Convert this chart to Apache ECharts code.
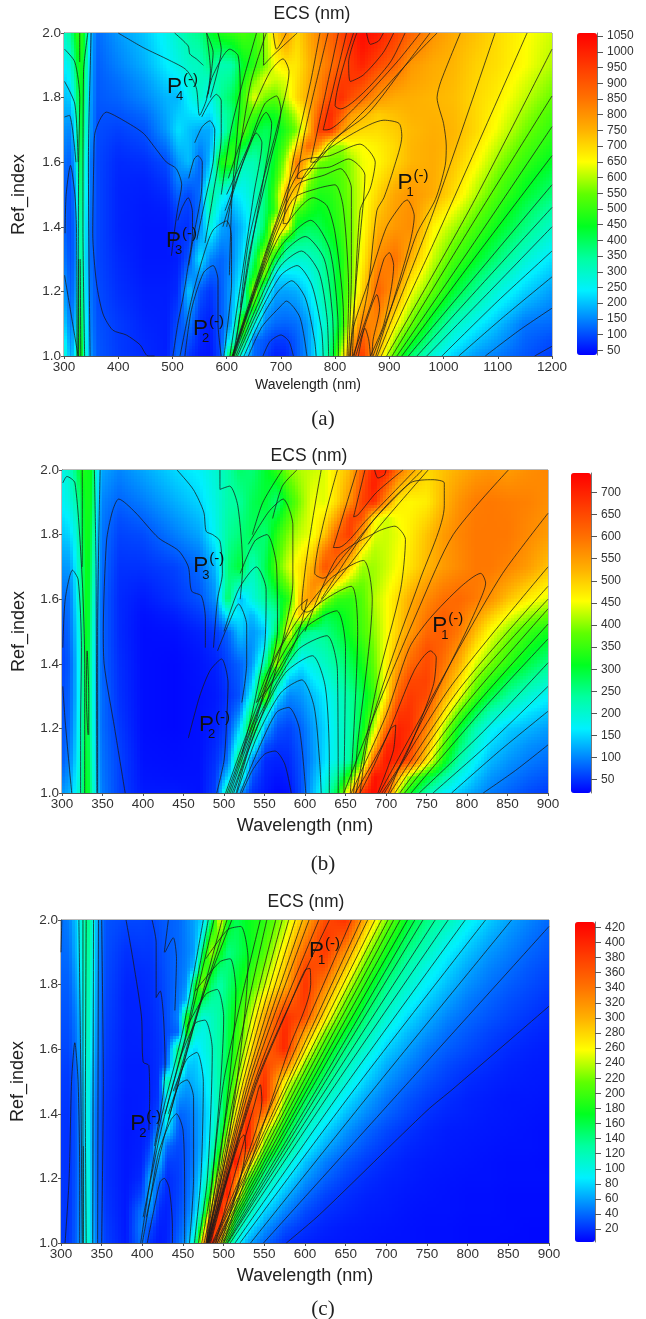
<!DOCTYPE html>
<html>
<head>
<meta charset="utf-8">
<style>html,body{margin:0;padding:0;background:#fff}#main{width:646px;height:1319px}</style>
<script src="https://cdn.jsdelivr.net/npm/echarts@6/dist/echarts.min.js"></script>
</head>
<body>
<div id="main"></div>
<script>
// ref index rows, same for all three maps
var refIndex = [1.0,1.05,1.1,1.15,1.2,1.25,1.3,1.35,1.4,1.45,1.5,1.55,1.6,1.65,1.7,1.75,1.8,1.85,1.9,1.95,2.0];

// (a) values, one row per ref index
var wavelengthsA = [300,312,322,330,338,348,360,400,450,490,510,530,550,570,590,610,630,650,670,690,710,730,750,770,790,810,830,850,880,910,940,980,1020,1060,1100,1150,1200];
var valuesA = [
[300,160,280,500,300,170,110,85,70,60,130,80,55,50,100,500,230,125,95,60,65,110,160,260,370,600,820,960,720,525,385,280,212,165,140,108,85],
[260,145,245,475,290,160,108,85,68,60,115,105,65,55,105,280,420,130,110,85,85,115,165,255,350,520,740,900,775,590,470,345,260,205,168,120,100],
[220,130,210,450,280,150,105,85,65,60,100,140,75,60,110,180,560,280,150,125,120,130,170,250,330,450,650,830,820,660,555,410,310,250,197,135,125],
[195,120,190,425,270,145,102,80,62,60,85,175,90,70,110,180,350,480,190,150,145,155,200,275,350,455,610,760,850,725,600,475,370,300,237,175,145],
[170,110,170,400,260,140,100,75,60,60,70,210,110,80,110,180,280,620,300,180,175,185,230,300,370,460,570,700,880,790,650,545,435,350,280,215,170],
[155,105,160,390,255,135,97,72,57,57,65,150,170,115,115,165,250,460,560,230,225,235,260,315,380,460,565,680,845,825,700,580,475,395,325,250,200],
[140,100,150,380,250,130,95,70,55,55,60,110,240,150,120,150,230,380,650,430,310,290,300,330,390,460,560,660,810,855,750,615,520,445,375,290,230],
[130,97,150,375,255,130,95,67,55,55,70,90,190,210,150,150,215,330,490,650,400,360,350,370,420,480,560,650,780,825,780,640,555,480,410,330,265],
[120,95,150,370,260,130,95,65,55,55,80,75,150,280,180,150,200,280,400,690,700,430,400,410,450,500,560,640,750,790,810,665,595,520,450,370,300],
[120,97,160,385,270,135,95,65,57,60,95,85,130,330,220,180,225,290,385,500,760,520,470,440,465,510,565,635,725,780,805,710,640,560,485,400,335],
[120,100,170,400,280,140,95,65,60,70,120,95,130,350,270,220,250,300,370,520,770,700,520,470,480,520,570,630,705,770,795,760,690,600,520,435,375],
[125,105,195,415,290,140,95,67,65,85,150,140,120,250,400,340,280,310,375,480,650,820,600,510,510,530,575,635,680,735,770,760,710,630,550,465,405],
[130,115,220,430,300,140,95,70,75,100,165,200,120,200,470,500,320,320,380,450,600,850,720,560,540,540,580,640,660,705,745,760,725,660,580,500,440],
[145,130,245,440,320,155,97,78,90,135,200,200,150,180,360,480,440,370,385,435,530,690,880,800,600,580,640,650,670,700,745,760,740,680,610,530,470],
[160,150,270,450,340,170,100,90,105,170,230,200,180,180,280,400,540,440,400,420,480,560,720,950,980,800,720,700,695,715,740,755,745,700,640,560,495],
[180,180,305,460,355,175,105,105,125,180,210,225,240,220,320,370,510,520,460,460,530,620,730,890,990,900,790,750,715,735,750,750,740,700,655,585,520],
[200,210,340,470,370,180,110,120,150,190,190,250,300,260,350,400,500,640,560,540,610,700,760,830,920,980,920,870,790,760,755,745,735,700,670,610,550],
[220,245,370,475,385,185,112,130,165,215,230,280,310,300,340,360,470,560,640,610,630,690,750,815,885,950,960,940,860,810,775,755,740,705,680,630,575],
[240,280,400,480,400,190,115,145,185,240,270,300,310,370,320,330,440,480,560,650,680,680,740,800,850,900,960,1000,930,880,790,760,745,710,690,650,600],
[270,315,435,490,415,195,120,155,195,250,285,320,335,400,400,420,480,490,570,680,740,690,750,810,860,915,970,1025,975,915,835,780,750,720,692,652,610],
[300,350,470,500,430,200,125,165,205,260,300,340,360,430,480,500,520,500,580,700,780,700,760,820,870,930,980,1040,1010,945,880,800,760,730,695,655,620]
];

// (b)
var wavelengthsB = [300,310,318,325,331,337,343,350,370,400,440,470,490,505,520,535,550,565,580,595,610,625,640,655,670,685,700,715,730,750,770,790,810,830,850,875,900];
var valuesB = [
[110,130,180,240,330,230,140,95,60,35,35,30,60,240,110,50,35,25,30,65,130,200,290,500,680,735,650,420,310,225,170,140,115,95,80,65,55],
[90,115,170,235,325,225,135,92,60,32,30,30,55,150,210,70,40,32,38,68,120,175,240,350,530,725,700,530,400,310,240,180,140,110,95,80,70],
[75,100,160,230,320,220,130,90,60,30,28,30,50,90,280,100,45,40,45,70,110,155,190,240,360,620,715,690,640,480,330,230,170,130,110,95,85],
[72,92,155,230,315,215,128,88,58,29,27,30,45,72,210,200,70,52,52,75,112,152,190,235,330,500,690,710,665,530,380,270,200,150,127,108,98],
[70,85,150,230,310,210,125,85,55,28,25,30,40,60,150,330,130,70,60,80,115,150,190,230,300,420,600,700,685,580,430,310,230,175,145,130,115],
[68,82,145,225,310,210,122,85,52,28,25,30,37,55,100,270,210,100,80,95,125,157,195,235,290,380,530,670,680,620,490,380,290,225,190,160,140],
[65,80,140,220,310,210,120,85,50,28,25,30,35,50,70,180,390,160,100,110,135,165,200,240,280,350,470,620,670,650,540,450,360,290,240,200,170],
[62,78,140,222,315,212,120,82,49,28,25,31,37,55,75,135,350,260,140,125,160,185,220,260,300,365,465,580,650,660,575,490,400,340,285,245,210],
[60,75,140,225,320,215,120,80,48,28,25,32,40,60,80,110,230,430,210,160,190,210,240,280,320,380,460,540,610,650,600,530,440,390,340,290,250],
[62,80,145,232,325,220,122,80,46,28,27,35,47,70,110,105,170,380,350,210,215,230,260,300,340,390,455,520,580,640,615,560,480,420,370,320,285],
[65,85,150,240,330,225,125,80,45,28,30,40,55,80,140,110,140,280,470,270,240,250,280,320,360,400,450,500,550,610,625,590,520,450,400,350,320],
[75,88,160,250,330,232,128,80,45,30,38,55,85,170,160,130,190,240,410,510,400,290,300,330,365,410,450,495,540,590,620,600,555,505,455,410,380],
[85,90,170,260,330,240,130,80,45,35,50,70,110,280,130,190,240,280,340,520,560,420,350,340,370,420,450,490,530,570,600,610,590,560,510,470,440],
[97,100,175,260,330,250,135,82,47,42,55,78,120,260,230,200,260,330,400,480,570,560,470,410,385,410,440,470,505,545,575,590,590,575,545,510,475],
[110,115,180,260,330,260,140,85,50,50,60,85,135,260,300,215,280,370,440,480,530,640,590,490,410,410,430,455,480,520,550,570,590,590,575,550,510],
[125,130,190,270,330,270,145,87,55,57,78,100,155,250,280,245,270,355,420,455,490,590,640,580,460,420,430,450,475,515,550,572,590,590,585,560,530],
[140,150,200,280,330,280,150,90,60,65,95,120,180,240,260,280,260,340,400,430,450,510,620,670,540,440,430,445,470,510,550,575,590,590,590,570,550],
[155,170,215,285,330,290,160,95,68,80,110,135,185,235,250,280,280,300,370,415,450,475,545,660,640,470,430,455,465,490,535,568,588,590,588,575,558],
[170,190,230,290,330,300,170,100,80,95,125,150,190,230,240,280,300,260,340,400,450,440,490,560,660,690,560,470,460,470,520,560,585,590,585,580,565],
[175,200,250,310,325,305,175,110,90,108,138,160,195,230,255,270,300,300,370,410,440,440,485,540,640,710,630,530,495,480,515,545,568,575,568,572,570],
[180,210,270,330,320,310,180,120,100,120,150,170,200,230,270,260,300,340,400,420,430,440,480,520,620,700,700,600,540,490,510,530,550,560,550,565,575]
];

// (c)
var wavelengthsC = [300,310,320,326,332,338,345,355,380,400,410,420,430,445,455,465,475,485,495,505,515,530,550,575,600,625,650,675,700,725,750,775,800,825,850,875,900];
var valuesC = [
[25,22,40,70,120,70,40,25,12,45,20,12,15,40,60,120,300,420,290,150,100,62,40,20,15,12,11,10,9,9,8,8,7,7,6,6,6],
[24,21,39,67,118,67,39,24,11,50,30,14,14,34,50,90,200,400,380,240,140,90,57,32,21,15,12,11,10,9,8,8,7,7,7,6,6],
[24,20,38,65,115,65,38,22,11,45,55,18,14,30,42,70,130,280,415,320,190,130,80,50,30,20,16,13,12,10,9,9,8,8,7,7,7],
[23,20,37,62,115,64,37,21,11,28,68,28,16,27,38,62,105,200,370,410,280,165,105,67,42,27,19,15,13,11,10,9,8,8,7,7,7],
[23,20,36,60,115,62,36,20,11,18,65,45,18,25,36,55,90,150,280,415,350,210,135,90,57,38,26,19,15,13,11,10,9,9,8,8,8],
[22,20,35,60,112,61,35,20,11,15,40,70,25,26,35,50,78,120,210,340,420,295,170,115,72,48,33,24,18,14,12,11,10,9,8,8,7],
[22,20,35,60,110,60,35,20,11,14,25,90,40,28,35,48,70,105,170,270,370,400,220,150,95,65,45,32,23,17,14,12,11,10,9,9,8],
[22,20,35,60,110,61,35,20,11,13,18,55,85,32,38,50,68,96,145,225,315,410,260,170,112,80,56,40,29,21,16,13,12,11,10,9,8],
[22,21,35,60,110,62,36,20,12,13,16,28,110,38,42,52,68,90,130,190,260,390,340,200,135,100,70,52,38,28,20,16,14,12,11,10,9],
[23,22,36,62,112,66,38,21,12,13,15,22,100,55,50,60,73,95,130,180,240,335,400,230,160,118,86,62,45,33,25,19,15,13,11,11,10],
[24,23,38,65,115,70,40,22,13,13,15,20,130,75,60,68,80,100,130,170,220,300,395,260,190,140,105,76,55,41,31,24,18,15,13,12,11],
[26,25,41,70,120,75,42,23,13,13,15,20,38,150,75,72,88,105,130,165,205,275,375,340,225,165,120,90,65,50,38,29,23,19,15,13,12],
[28,28,45,75,125,80,45,24,14,14,16,20,28,150,100,80,95,110,130,160,195,255,340,400,270,190,140,110,78,60,45,36,29,23,18,15,13],
[30,30,47,80,128,85,46,25,14,15,16,21,29,40,190,105,98,112,130,158,190,240,320,400,310,225,165,125,92,70,55,42,34,27,22,18,15],
[32,32,50,85,130,90,48,26,15,15,17,22,30,50,190,140,105,115,130,155,185,230,300,390,370,270,195,145,110,82,65,50,40,33,27,22,18],
[34,34,55,90,132,95,49,27,15,16,18,23,31,45,70,190,150,130,128,150,175,212,270,345,385,300,220,165,125,97,76,60,46,38,31,26,21],
[36,36,60,95,135,100,50,28,16,17,19,24,32,42,55,170,230,150,125,145,165,195,240,300,390,330,250,185,140,112,88,70,54,44,36,30,25],
[38,39,65,100,138,105,51,29,18,19,20,26,33,41,50,75,200,190,145,142,158,182,222,285,375,365,285,210,160,125,100,80,62,50,42,34,29],
[40,42,70,105,140,110,52,30,20,22,22,28,34,40,48,60,150,240,180,140,150,170,205,270,350,385,320,235,180,140,116,90,72,57,48,39,33],
[41,45,72,108,142,112,54,31,24,25,24,30,35,40,49,61,100,200,220,160,152,172,198,250,325,385,360,265,200,155,128,105,82,66,54,44,36],
[42,48,75,110,145,115,55,32,28,28,26,32,36,40,50,62,80,140,260,180,155,175,190,235,300,370,390,295,225,170,140,122,95,76,61,50,40]
];

// contour lines, [wavelength, ref index]
var contoursA = [
[[326,1],[313,1.13],[301,1.25]],
[[324,1],[323,1.4],[320,1.5],[312,1.59],[304,1.5],[302,1.38]],
[[301,1.74],[310,1.745],[322,1.6]],[[301,1.85],[320,1.78],[326,1.6]],
[[301,1.95],[320,1.91],[329,1.8],[327,1.6],[326,1]],[[329,2],[329,1.91]],
[[344,2],[336,1.88],[335,1.4],[338,1]],[[350,2],[345,1.6],[348,1]],[[330,1.3],[331,1]],[[327,1.3],[327,1]],
[[467,1],[455,1],[440,1.035],[415,1.065],[390,1.08],[372,1.13],[360,1.225],[353,1.38],[355,1.61],[357,1.69],[378,1.755],[409,1.73],[446,1.69],[470,1.64],[489,1.6],[507,1.58],[517,1.53],[510,1.46],[504,1.39],[498,1.31]],
[[501,1],[510,1.1],[520,1.185],[529,1.28],[537,1.38],[537,1.445],[529,1.49],[518,1.46],[510,1.42]],
[[523,1],[535,1.143],[557,1.257],[575,1.28],[584,1.236],[584,1.1],[590,1]],
[[514,1],[535,1.174],[557,1.31],[575,1.39],[600,1.418],[609,1.37],[609,1.226],[600,1.07],[595,1]],
[[400,2],[446,1.955],[495,1.915],[526,1.885],[544,1.83],[550,1.745],[563,1.795],[570,1.885],[563,2]],
[[504,2],[529,1.96],[532,1.935],[544,1.92],[557,1.9]],
[[563,1.8],[575,1.87],[606,1.95],[621,1.93],[625,1.82],[620,1.7],[610,1.5],[605,1.25]],
[[554,1.74],[570,1.79],[581,1.81],[590,1.79],[590,1.68],[575,1.5],[560,1.35]],
[[541,1.66],[555,1.71],[569,1.728],[578,1.7],[575,1.6],[560,1.48],[545,1.36]],
[[530,1.55],[540,1.61],[547,1.62],[555,1.6],[553,1.5],[540,1.38],[530,1.28]],
[[584,2],[590,1.95],[570,1.8]],[[563,2],[575,1.94],[566,1.81]],
[[655,2],[630,1.85],[608,1.7],[590,1.5]],[[673,2],[645,1.85],[625,1.65],[600,1.4]],
[[603,1.55],[640,1.73],[680,1.88],[704,1.92],[715,1.88],[695,1.72],[665,1.53],[640,1.35],[625,1.15]],
[[600,1.5],[640,1.65],[670,1.78],[692,1.805],[700,1.76],[680,1.6],[655,1.42],[640,1.3],[618,1.05]],
[[597,1.45],[640,1.64],[673,1.754],[683,1.72],[668,1.55],[650,1.38],[632,1.2],[612,1]],
[[593,1.4],[630,1.6],[655,1.69],[665,1.66],[650,1.5],[630,1.27],[606,1]],
[[686,2],[692,1.95],[710,2]],[[668,2],[668,1.9],[685,1.93],[730,2]],
[[667,1],[680,1.045],[700,1.065],[715,1.045],[723,1]],
[[640,1],[665,1.09],[700,1.155],[710,1.17],[735,1.12],[748,1]],
[[632,1],[665,1.12],[695,1.2],[720,1.233],[745,1.18],[762,1.05],[765,1]],
[[625,1],[660,1.13],[700,1.25],[730,1.28],[757,1.22],[775,1.08],[778,1]],
[[620,1],[660,1.15],[700,1.28],[738,1.325],[770,1.26],[785,1.12],[788,1]],
[[617,1],[660,1.17],[700,1.31],[745,1.37],[780,1.3],[795,1.13],[797,1]],
[[614,1],[660,1.2],[700,1.34],[755,1.42],[790,1.33],[805,1.12],[806,1]],
[[613,1],[658,1.22],[700,1.38],[760,1.49],[785,1.465],[800,1.38],[815,1.15],[816,1]],
[[612,1],[656,1.22],[695,1.39],[725,1.49],[770,1.52],[800,1.53],[815,1.46],[825,1.2],[822,1]],
[[611,1],[655,1.22],[693,1.4],[730,1.53],[780,1.56],[810,1.58],[830,1.52],[830,1.25],[825,1]],
[[611,1],[654,1.22],[692,1.41],[735,1.57],[790,1.585],[825,1.61],[855,1.56],[845,1.35],[827,1]],
[[610,1],[652,1.22],[690,1.41],[735,1.6],[790,1.62],[846,1.656],[874,1.6],[865,1.52],[846,1.45],[832,1]],
[[772,2],[755,1.85],[722,1.6],[704,1.41],[710,1.41],[740,1.55],[772,1.62],[834,1.69],[890,1.73],[918,1.72],[923,1.68],[908,1.58],[890,1.49],[877,1.45],[860,1.2],[835,1]],
[[787,2],[745,1.7],[730,1.55],[738,1.55],[790,1.66],[860,1.75],[925,1.89],[975,2]],
[[806,2],[755,1.6],[762,1.6],[800,1.67],[860,1.77],[930,1.9],[988,2]],
[[821,2],[778,1.7],[785,1.7],[834,1.765],[914,1.91],[957,2]],
[[834,2],[800,1.775],[810,1.765],[852,1.815],[902,1.91],[929,2]],
[[840,2],[825,1.91],[828,1.85],[852,1.87],[889,1.94],[908,2]],
[[858,2],[865,1.965],[880,1.975],[889,2]],
[[828,1],[834,1.09],[865,1.247],[895,1.4],[925,1.475],[933,1.483],[946,1.433],[938,1.35],[908,1.175],[875,1]],
[[833,1],[870,1.18],[890,1.3],[900,1.32],[908,1.28],[890,1.1],[865,1]],
[[838,1],[860,1.12],[877,1.19],[882,1.15],[870,1.05],[868,1]],
[[843,1],[855,1.086],[862,1.05],[865,1]],
[[1031,2],[995,1.85],[988,1.8],[1000,1.72],[1005,1.65],[1003,1.59],[985,1.485],[951,1.38],[920,1.226],[870,1]],
[[878,1],[980,1.44],[1095,2]],[[885,1],[990,1.38],[1154,2]],[[895,1],[1050,1.46],[1200,1.95]],
[[905,1],[1050,1.4],[1200,1.805]],[[914,1],[1060,1.36],[1200,1.71]],[[923,1],[1060,1.31],[1200,1.62]],
[[935,1],[1070,1.27],[1200,1.53]],[[951,1],[1075,1.23],[1200,1.46]],[[969,1],[1085,1.2],[1200,1.4]],
[[997,1],[1100,1.17],[1200,1.325]],[[1028,1],[1110,1.12],[1200,1.245]],[[1077,1],[1140,1.08],[1200,1.148]],[[1168,1],[1200,1.03]]
];
var contoursB = [
[[312,1],[304,1.22],[301,1.33]],
[[323,1],[323,1.2],[324,1.45],[320,1.66],[313,1.69],[304,1.6],[301,1.45]],
[[328,1],[328,1.4],[325,1.66],[316,1.96],[306,1.98],[301,1.96]],
[[325,2],[325,1.7]],[[340,2],[342,1.7],[343,1]],[[347,2],[344,1.5],[344,1]],
[[332,1.18],[330,1.3],[331,1.44],[333,1.3],[333,1.18]],
[[378,1],[365,1.2],[352,1.4],[351,1.5],[355,1.78],[362,1.87],[370,1.91],[390,1.87],[419,1.79],[444,1.75],[456,1.7],[460,1.625],[472,1.61],[477,1.54],[477,1.45]],
[[456,1.17],[470,1.3],[483,1.38],[497,1.415],[505,1.34],[503,1.21],[500,1.1],[491,1]],
[[442,2],[462,1.94],[475,1.87],[478,1.81],[486,1.8],[495,1.78],[498,1.68],[492,1.6],[487,1.45]],
[[495,2],[495,1.94],[507,1.95],[517,1.89],[523,1.7],[520,1.6]],
[[492,1.44],[505,1.52],[518,1.585],[528,1.52],[528,1.4],[522,1.28]],
[[500,1.5],[518,1.63],[540,1.7],[552,1.63],[550,1.45],[535,1.25],[522,1.12]],
[[520,1.68],[538,1.78],[553,1.8],[565,1.7],[566,1.5],[548,1.3],[527,1.12],[510,1]],
[[530,1.77],[555,1.87],[573,1.91],[585,1.83],[585,1.65],[575,1.5],[555,1.3],[530,1.13],[515,1]],
[[572,2],[548,1.9],[535,1.8]],[[590,2],[572,1.95],[560,1.85]],
[[540,1.28],[555,1.38],[575,1.48],[590,1.57],[603,1.6],[590,1.48],[565,1.36],[540,1.28]],
[[522,1],[535,1.07],[550,1.12],[563,1.13],[575,1.09],[583,1]],
[[520,1],[545,1.15],[565,1.25],[580,1.265],[593,1.2],[601,1]],
[[516,1],[540,1.17],[570,1.31],[596,1.35],[611,1.27],[618,1.1],[620,1]],
[[512,1],[540,1.2],[575,1.37],[609,1.425],[625,1.33],[630,1.1],[630,1]],
[[508,1],[540,1.22],[590,1.44],[627,1.487],[640,1.38],[641,1]],
[[506,1],[550,1.3],[600,1.51],[639,1.564],[650,1.45],[648,1]],
[[504,1],[560,1.37],[610,1.57],[657,1.64],[665,1.5],[656,1]],
[[502,1],[570,1.45],[630,1.66],[672,1.72],[683,1.6],[665,1.15],[660,1]],
[[600,1.5],[640,1.73],[690,1.81],[711,1.826],[724,1.785],[718,1.63],[690,1.35],[663,1]],
[[620,1.6],[680,1.83],[730,1.96],[758,1.97],[772,1.96],[772,1.89],[742,1.66],[716,1.48],[680,1.2],[668,1]],
[[686,2],[690,1.975],[698,1.985],[700,2]],
[[674,2],[660,1.855],[665,1.86],[688,1.93],[721,2]],
[[664,2],[635,1.76],[641,1.76],[676,1.845],[736,2]],
[[640,2],[612,1.68],[622,1.665],[650,1.74],[690,1.86],[745,2]],
[[620,2],[596,1.57],[602,1.56],[640,1.66],[690,1.82],[752,2]],
[[668,1],[686,1.09],[706,1.2],[712,1.21],[709,1.13],[690,1]],
[[662,1],[700,1.17],[735,1.38],[755,1.44],[762,1.42],[758,1.33],[725,1.12],[695,1]],
[[657,1],[700,1.24],[729,1.45],[754,1.54],[793,1.64],[817,1.68],[823,1.65],[815,1.59],[795,1.48],[720,1.1],[703,1]],
[[851,2],[783,1.8],[742,1.58],[690,1.27],[648,1]],
[[900,1.866],[844,1.68],[795,1.47],[740,1.22],[692,1]],
[[698,1],[780,1.33],[900,1.7]],[[705,1],[790,1.32],[900,1.64]],[[711,1],[800,1.32],[900,1.6]],
[[717,1],[800,1.28],[900,1.57]],[[723,1],[810,1.27],[900,1.523]],[[731,1],[820,1.26],[900,1.477]],
[[741,1],[820,1.19],[900,1.403]],[[758,1],[830,1.16],[900,1.33]],[[781,1],[840,1.13],[900,1.253]],[[820,1],[860,1.07],[900,1.149]]
];
var contoursC = [
[[301,2],[300,1.9]],
[[305,1],[310,1.2],[313,1.5],[317,1.62],[321,1.5],[323,1.2],[323,1]],
[[322,2],[324,1.6],[326,1]],[[327,2],[327,1]],[[327.5,1.3],[327.5,1]],[[331,2],[330,1.4],[331,1]],
[[340,2],[339,1]],[[346,2],[345,1]],[[350,2],[352,1.5],[350,1]],
[[380,2],[389,1.87],[399,1.7],[401,1.56],[408,1.55],[409,1.45],[408,1.35]],
[[412,2],[417,1.93],[417,1.76],[422,1.78],[426,1.7],[428,1.55],[425,1.45],[415,1.3]],
[[428,1.9],[438,1.945],[442,1.88],[440,1.72]],[[432,2],[427,1.9]],
[[406,1],[414,1.1],[422,1.19],[427,1.2],[433,1.17],[437,1.05],[437,1]],
[[400,1],[410,1.14],[420,1.28],[435,1.38],[442,1.4],[450,1.35],[452,1.15],[452,1]],
[[432,1.4],[445,1.49],[455,1.505],[463,1.45],[463,1.2],[458,1]],
[[438,1.47],[455,1.57],[467,1.59],[475,1.5],[472,1.2],[464,1]],
[[446,1.57],[465,1.68],[477,1.69],[486,1.6],[480,1.2],[469,1]],
[[455,1.67],[478,1.77],[492,1.785],[500,1.7],[486,1.2],[473,1]],
[[465,1.78],[495,1.87],[508,1.88],[515,1.78],[495,1.25],[476,1]],
[[478,1.88],[505,1.97],[521,1.98],[530,1.88],[505,1.3],[478,1]],
[[398,1],[420,1.35],[450,1.66],[475,2]],[[401,1.08],[424,1.36],[455,1.66],[481,2]],[[428,1.4],[458,1.68],[488,2]],
[[405,1.08],[427,1.33],[458,1.62],[498,2]],[[432,1.38],[462,1.66],[504,2]],[[440,1.47],[468,1.72],[510,2]],
[[479,1],[500,1.5],[545,2]],[[479,1],[510,1.5],[553,2]],[[480,1],[516,1.5],[564,2]],[[480,1],[520,1.5],[572,2]],
[[480,1],[524,1.5],[580,2]],[[481,1],[528,1.5],[588,2]],[[481,1],[531,1.5],[597,2]],[[482,1],[534,1.5],[605,2]],
[[482,1],[538,1.5],[617,2]],[[483,1],[540,1.5],[630,2]],
[[484,1],[505,1.2],[520,1.32],[525,1.335],[527,1.3],[512,1.12],[492,1]],
[[490,1],[520,1.27],[538,1.43],[545,1.49],[547,1.44],[520,1.2],[497,1]],
[[480,1],[540,1.49],[580,1.73],[600,1.845],[606,1.85],[607,1.8],[580,1.6],[540,1.3],[500,1]],
[[486,1],[571,1.5],[657,2]],[[487,1],[578,1.5],[669,2]],[[488,1],[582,1.5],[677,2]],[[490,1],[588,1.5],[686,2]],
[[492,1],[593,1.5],[694,2]],[[494,1],[598,1.5],[702,2]],[[496,1],[603,1.5],[709,2]],[[498,1],[608,1.5],[717,2]],
[[500,1],[613,1.5],[726,2]],[[502,1],[620,1.5],[735,2]],[[504,1],[625,1.5],[745,2]],[[505,1],[632,1.5],[760,2]],
[[508,1],[640,1.5],[776,2]],[[514,1],[653,1.5],[797,2]],[[520,1],[668,1.5],[822,2]],[[533,1],[692,1.5],[854,2]],
[[549,1],[728,1.5],[900,1.98]],[[577,1],[618,1.088],[750,1.41],[782,1.477],[900,1.733]]
];

// P labels: wavelength, ref index, subscript
var peaksA = [[490,1.814,'4'],[488,1.337,'3'],[538,1.065,'2'],[915,1.517,'1']];
var peaksB = [[462,1.684,'3'],[469,1.192,'2'],[757,1.498,'1']];
var peaksC = [[385,1.35,'2'],[605,1.885,'1']];

var ticksA = [50,100,150,200,250,300,350,400,450,500,550,600,650,700,750,800,850,900,950,1000,1050];
var ticksB = [50,100,150,200,250,300,350,400,450,500,550,600,650,700];
var ticksC = [20,40,60,80,100,120,140,160,180,200,220,240,260,280,300,320,340,360,380,400,420];

var rampColors = ['#0000ff','#0078ff','#00f0ff','#00ffa0','#00ff20','#60ff00','#ffff00','#ffb000','#ff7000','#ff3800','#ff0000'];
var font = '"Liberation Sans", Arial, sans-serif';

var panels = [
    {title:'(a)', wl:wavelengthsA, values:valuesA, lines:contoursA, peaks:peaksA, ticks:ticksA, min:35, max:1060,
     left:64, top:33, width:488, height:323, xmax:1200, step:100, titleX:312, titleY:5, capY:409, nameSize:14, nameGap:22, yGap:36,
     barLeft:577, barTop:33, barH:322},
    {title:'(b)', wl:wavelengthsB, values:valuesB, lines:contoursB, peaks:peaksB, ticks:ticksB, min:20, max:744,
     left:62, top:470, width:486, height:323, xmax:900, step:50, titleX:309, titleY:447, capY:854, nameSize:18, nameGap:24, yGap:34,
     barLeft:571, barTop:473, barH:320},
    {title:'(c)', wl:wavelengthsC, values:valuesC, lines:contoursC, peaks:peaksC, ticks:ticksC, min:3, max:427,
     left:61, top:920, width:488, height:323, xmax:900, step:50, titleX:306, titleY:893, capY:1299, nameSize:18, nameGap:24, yGap:34,
     barLeft:575, barTop:922, barH:320}
];

var grid = [], xAxis = [], yAxis = [], series = [], visualMap = [], title = [];

function plainLabel(v){
    return String(v);
}

// shade one grid cell between its four corner values
function cellRenderer(p){
    return function(params, api){
        var w0 = api.value(0), w1 = api.value(1), r0 = api.value(2), r1 = api.value(3);
        var v00 = api.value(4), v10 = api.value(5), v01 = api.value(6), v11 = api.value(7);
        var a = api.coord([w0, r1]), b = api.coord([w1, r0]);
        var x0 = Math.round(a[0]), x1 = Math.round(b[0]), y0 = Math.round(a[1]), y1 = Math.round(b[1]);
        var children = [];
        for(var x = x0; x < x1; x += 3){
            var dx = Math.min(3, x1 - x);
            var tx = (x + dx / 2 - x0) / (x1 - x0);
            for(var y = y0; y < y1; y += 3){
                var dy = Math.min(3, y1 - y);
                var ty = (y + dy / 2 - y0) / (y1 - y0);
                var top = v01 + (v11 - v01) * tx, bottom = v00 + (v10 - v00) * tx;
                var v = top + (bottom - top) * ty;
                children.push({
                    type:'rect',
                    shape:{x:x, y:y, width:dx, height:dy},
                    style:{fill:echarts.color.lerp(Math.max(0, Math.min(1, (v - p.min) / (p.max - p.min))), rampColors)}
                });
            }
        }
        return {type:'group', children:children};
    };
}

function peakRenderer(p){
    return function(params, api){
        var c = api.coord([api.value(0), api.value(1)]);
        var sub = p.peaks[params.dataIndex][2];
        var piece = function(text, x, y, size){
            return {type:'text', style:{text:text, x:x, y:y, fontSize:size, fontFamily:font, fill:'#111', verticalAlign:'bottom'}};
        };
        return {type:'group', children:[
            piece('P', c[0], c[1] + 5, 22.5),
            piece('(-)', c[0] + 16, c[1] - 6, 15),
            piece(sub, c[0] + 9, c[1] + 10, 13)
        ]};
    };
}

panels.forEach(function(p, n){
    var cells = [];
    for(var j = 0; j < refIndex.length - 1; j++){
        for(var i = 0; i < p.wl.length - 1; i++){
            cells.push([p.wl[i], p.wl[i+1], refIndex[j], refIndex[j+1], p.values[j][i], p.values[j][i+1], p.values[j+1][i], p.values[j+1][i+1]]);
        }
    }
    grid.push({left:p.left, top:p.top, width:p.width, height:p.height, show:true, borderColor:'#777', borderWidth:1});
    grid.push({left:p.barLeft, top:p.barTop, width:20, height:p.barH});
    xAxis.push({
        gridIndex:n*2, type:'value', min:300, max:p.xmax, interval:p.step,
        name:'Wavelength (nm)', nameLocation:'middle', nameGap:p.nameGap,
        nameTextStyle:{fontSize:p.nameSize, fontFamily:font, color:'#222'},
        axisLine:{show:true, onZero:false, lineStyle:{color:'#555'}},
        axisTick:{show:true, length:3, lineStyle:{color:'#555'}},
        axisLabel:{fontSize:13.5, fontFamily:font, color:'#333', margin:4, showMinLabel:true, showMaxLabel:true, formatter:plainLabel},
        splitLine:{show:false}
    });
    xAxis.push({gridIndex:n*2+1, type:'value', min:0, max:1, show:false});
    yAxis.push({
        gridIndex:n*2, type:'value', min:1, max:2, interval:0.2,
        name:'Ref_index', nameLocation:'middle', nameRotate:90, nameGap:p.yGap,
        nameTextStyle:{fontSize:18, fontFamily:font, color:'#222'},
        axisLine:{show:true, onZero:false, lineStyle:{color:'#555'}},
        axisTick:{show:true, length:3, lineStyle:{color:'#555'}},
        axisLabel:{fontSize:13.5, fontFamily:font, color:'#333', margin:3, formatter:function(v){return v.toFixed(1);}},
        splitLine:{show:false}
    });
    yAxis.push({
        gridIndex:n*2+1, type:'value', position:'right', min:p.min, max:p.max,
        axisLine:{show:true, onZero:false, lineStyle:{color:'#777', width:1}},
        axisTick:{show:true, length:6, customValues:p.ticks, lineStyle:{color:'#555'}},
        axisLabel:{fontSize:12, fontFamily:font, color:'#333', margin:10, customValues:p.ticks, formatter:plainLabel},
        splitLine:{show:false}
    });
    visualMap.push({
        type:'continuous', min:p.min, max:p.max, seriesIndex:[], calculable:false, hoverLink:false,
        left:p.barLeft, top:p.barTop, itemWidth:20, itemHeight:p.barH, padding:0,
        inRange:{color:rampColors}
    });
    title.push({text:'ECS (nm)', left:p.titleX, top:p.titleY, textAlign:'center', padding:0, textStyle:{fontSize:17.5, fontWeight:'normal', fontFamily:font, color:'#222'}});
    title.push({text:p.title, left:323, top:p.capY, textAlign:'center', padding:0, textStyle:{fontSize:21, fontWeight:'normal', fontFamily:'"Liberation Serif", serif', color:'#222'}});

    series.push({
        type:'custom', xAxisIndex:n*2, yAxisIndex:n*2, silent:true, clip:true, z:1,
        encode:{x:[0,1], y:[2,3]}, data:cells, renderItem:cellRenderer(p), progressive:0, animation:false
    });
    p.lines.forEach(function(line){
        series.push({
            type:'line', xAxisIndex:n*2, yAxisIndex:n*2, data:line, showSymbol:false, smooth:0.25, silent:true, z:3,
            lineStyle:{color:'#1a1a1a', width:0.9, opacity:0.85}, animation:false
        });
    });
    series.push({
        type:'custom', xAxisIndex:n*2, yAxisIndex:n*2, silent:true, clip:false, z:5,
        encode:{x:0, y:1}, data:p.peaks.map(function(d){return [d[0], d[1]];}), renderItem:peakRenderer(p), animation:false
    });
});

var chart = echarts.init(document.getElementById('main'), null, {renderer:'canvas'});
chart.setOption({
    animation:false,
    backgroundColor:'#fff',
    title:title,
    grid:grid,
    xAxis:xAxis,
    yAxis:yAxis,
    visualMap:visualMap,
    series:series
});
</script>
</body>
</html>
